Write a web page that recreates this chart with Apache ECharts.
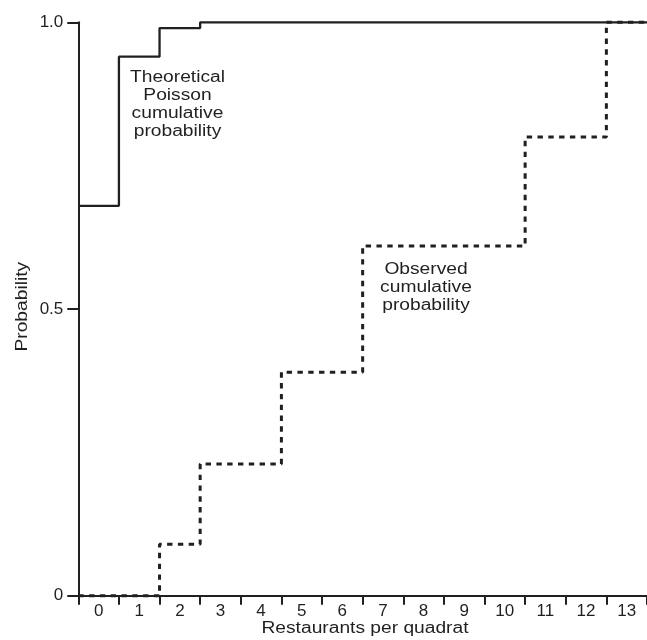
<!DOCTYPE html>
<html>
<head>
<meta charset="utf-8">
<script src="https://cdn.jsdelivr.net/npm/echarts@6/dist/echarts.min.js"></script>
<style>
html,body{margin:0;padding:0;background:#fff;}
#chart{width:647px;height:640px;}
</style>
</head>
<body>
<div id="chart"></div>
<script>
// ---- data ----
const categories = ['0','1','2','3','4','5','6','7','8','9','10','11','12','13'];
const theoretical = [0.68, 0.94, 0.99, 1, 1, 1, 1, 1, 1, 1, 1, 1, 1, 1];
const observed = [0, 0, 0.09, 0.23, 0.23, 0.39, 0.39, 0.61, 0.61, 0.61, 0.61, 0.80, 0.80, 1.0];
const yTickLabels = {0: '0', 0.5: '0.5', 1: '1.0'};
const xTitle = 'Restaurants per quadrat';
const yTitle = 'Probability';
const theoText = 'Theoretical\nPoisson\ncumulative\nprobability';
const obsText = 'Observed\ncumulative\nprobability';

// step data: each category occupies its band [i-0.5, i+0.5]
function stepData(vals) {
  const out = vals.map((v, i) => [i - 0.5, v]);
  out.push([vals.length - 0.5, vals[vals.length - 1]]);
  return out;
}

const INK = '#231f20';
const FONT = '"Liberation Sans", Arial, sans-serif';

const chart = echarts.init(document.getElementById('chart'), null, {renderer: 'canvas'});
chart.setOption({
  animation: false,
  backgroundColor: '#ffffff',
  grid: {left: 78.3, top: 22.3, width: 572.6, height: 573.5, containLabel: false},
  xAxis: [
    {
      type: 'category',
      data: categories,
      boundaryGap: true,
      axisLine: {show: true, onZero: false, lineStyle: {color: INK, width: 2}},
      axisTick: {show: true, interval: 0, length: 9, lineStyle: {color: INK, width: 2}},
      axisLabel: {interval: 0, margin: 7.5, color: INK, fontSize: 17, fontFamily: FONT},
      splitLine: {show: false}
    },
    {
      type: 'value',
      min: -0.5,
      max: categories.length - 0.5,
      show: false,
      axisLine: {onZero: false},
      splitLine: {show: false}
    }
  ],
  yAxis: {
    type: 'value',
    min: 0,
    max: 1,
    interval: 0.5,
    axisLine: {show: true, onZero: false, lineStyle: {color: INK, width: 2}},
    axisTick: {show: true, length: 11, lineStyle: {color: INK, width: 2}},
    axisLabel: {margin: 15, color: INK, fontSize: 17, fontFamily: FONT,
      formatter: v => yTickLabels[v] !== undefined ? yTickLabels[v] : ''},
    splitLine: {show: false}
  },
  series: [
    {
      name: 'Theoretical',
      type: 'line',
      xAxisIndex: 1,
      step: 'end',
      symbol: 'none',
      clip: false,
      data: stepData(theoretical),
      lineStyle: {color: INK, width: 2.3, type: 'solid'},
      z: 3
    },
    {
      name: 'Observed',
      type: 'line',
      xAxisIndex: 1,
      step: 'end',
      symbol: 'none',
      clip: false,
      data: stepData(observed),
      lineStyle: {color: INK, width: 3, type: [5.4, 5.4]},
      z: 4
    }
  ],
  graphic: [
    {
      type: 'text', x: 177.5, y: 68.6, scaleX: 1.2,
      style: {text: theoText, fill: INK, font: '16px ' + FONT, align: 'center', verticalAlign: 'top', lineHeight: 18}
    },
    {
      type: 'text', x: 426, y: 260, scaleX: 1.2,
      style: {text: obsText, fill: INK, font: '16px ' + FONT, align: 'center', verticalAlign: 'top', lineHeight: 18.3}
    },
    {
      type: 'text', x: 365, y: 628.6, scaleX: 1.2,
      style: {text: xTitle, fill: INK, font: '16px ' + FONT, align: 'center', verticalAlign: 'middle'}
    },
    {
      type: 'text', x: 22.5, y: 306.7, scaleX: 1.2, rotation: Math.PI / 2,
      style: {text: yTitle, fill: INK, font: '16px ' + FONT, align: 'center', verticalAlign: 'middle'}
    }
  ]
});
</script>
</body>
</html>
